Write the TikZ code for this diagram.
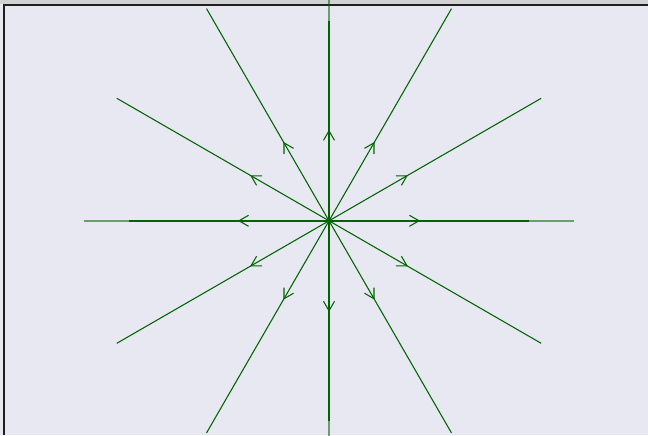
\documentclass[tikz,border=0pt]{standalone}
\usetikzlibrary{calc}
\definecolor{bg}{RGB}{232,232,242}
\definecolor{ray}{RGB}{0,100,0}
\begin{document}
\begin{tikzpicture}[x=0.75pt,y=0.75pt,
  rayline/.style={draw=ray, line width=0.8pt},
  axisline/.style={draw=ray, line width=1.5pt},
  axisext/.style={draw=ray, draw opacity=0.55, line width=1.5pt},
  tipline/.style={draw=ray, line width=0.8pt}]
\useasboundingbox (0,0) rectangle (648,435);
\fill[bg] (0,0) rectangle (648,435);
\fill[black!18] (0,431) rectangle (648,435);
\draw[black!88, line width=1.4pt] (4,0) -- (4,430) -- (648,430);
\coordinate (c) at (329,214.2);
% diagonal rays
\foreach \a in {30,60,120,150,210,240,300,330} {
  \coordinate (e\a) at ($(c)+(\a:245)$);
  \draw[rayline] (c) -- (e\a);
}
% axis rays: faint full length, dark inner part
\foreach \a in {0,90,180,270} {
  \coordinate (e\a) at ($(c)+(\a:245)$);
  \coordinate (d\a) at ($(c)+(\a:200)$);
  \draw[axisext] (d\a) -- (e\a);
  \draw[axisline] (c) -- (d\a);
}
% open arrowheads pointing outward
\foreach \a in {0,30,60,90,120,150,180,210,240,270,300,330} {
  \coordinate (t\a) at ($(c)+(\a:90)$);
  \draw[tipline] ($(t\a)+(\a+150:11)$) -- (t\a) -- ($(t\a)+(\a-150:11)$);
}
\end{tikzpicture}
\end{document}
